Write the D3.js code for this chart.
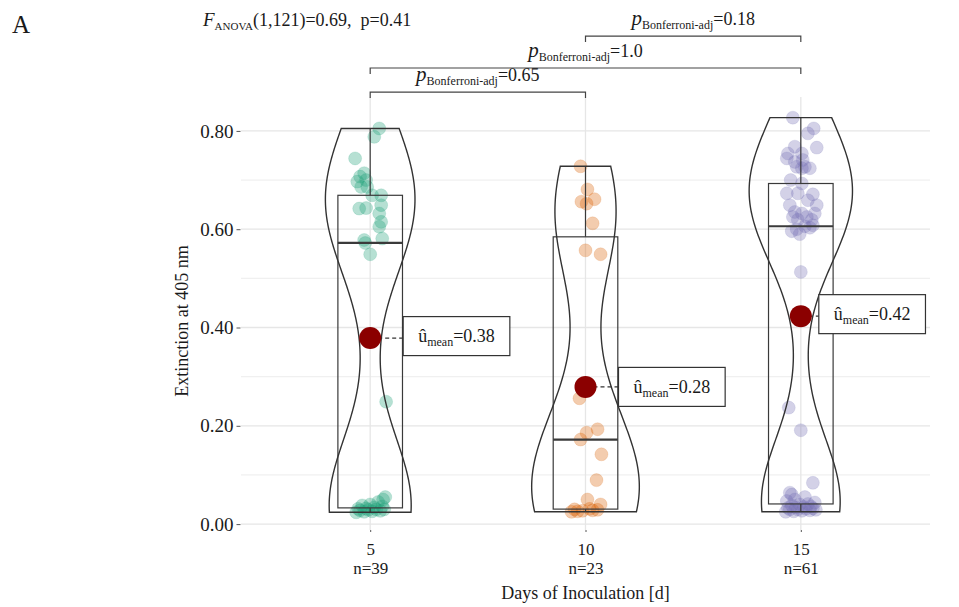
<!DOCTYPE html>
<html>
<head>
<meta charset="utf-8">
<script src="https://cdn.jsdelivr.net/npm/d3@7"></script>
<style>
  body { margin: 0; background: #fff; }
  text { font-family: "Liberation Serif", "Times New Roman", serif; fill: #1a1a1a; white-space: pre; }
</style>
</head>
<body>
<div id="chart"></div>
<script>
// categories (days of inoculation)
var days = ['5', '10', '15'];

// extinction values per group
var day5Values = [0.805, 0.788, 0.744, 0.714, 0.707, 0.700, 0.697, 0.686, 0.686, 0.669, 0.669,
  0.649, 0.643, 0.642, 0.632, 0.615, 0.605, 0.581, 0.578, 0.572, 0.549, 0.249,
  0.024, 0.025, 0.026, 0.027, 0.028, 0.029, 0.030, 0.030, 0.031, 0.032, 0.034, 0.036,
  0.038, 0.040, 0.045, 0.050, 0.055];
var day10Values = [0.728, 0.681, 0.661, 0.656, 0.652, 0.612, 0.557, 0.549, 0.256, 0.193,
  0.186, 0.172, 0.142, 0.0895,
  0.025, 0.026, 0.027, 0.028, 0.029, 0.030, 0.031, 0.040, 0.050];
var day15Values = [0.827, 0.805, 0.795, 0.768, 0.766, 0.754, 0.754, 0.744, 0.741, 0.737,
  0.727, 0.727, 0.724, 0.724, 0.700, 0.693, 0.673, 0.673, 0.671, 0.659, 0.649, 0.649,
  0.635, 0.632, 0.632, 0.625, 0.625, 0.619, 0.619, 0.608, 0.606, 0.603, 0.600, 0.596,
  0.590, 0.513, 0.237, 0.191, 0.084, 0.064,
  0.025, 0.026, 0.027, 0.028, 0.029, 0.030, 0.030, 0.031, 0.032, 0.033, 0.034, 0.035,
  0.036, 0.038, 0.040, 0.041, 0.044, 0.047, 0.050, 0.055, 0.060];

// horizontal jitter of each point, in category units (same order as values)
var day5Jitter = [0.042, 0.019, -0.070, -0.028, -0.047, -0.019, -0.060, -0.042, -0.014, 0.009, 0.051,
  0.051, -0.019, -0.051, 0.042, 0.051, 0.042, 0.056, -0.028, -0.023, 0.000, 0.074,
  -0.065, -0.028, 0.009, 0.047, -0.047, -0.009, 0.028, 0.065, -0.056, -0.019, 0.019, 0.056,
  -0.037, 0.000, 0.037, 0.060, 0.070];
var day10Jitter = [-0.023, 0.009, 0.042, -0.019, 0.005, 0.033, 0.000, 0.070, -0.028, 0.056,
  0.005, -0.023, 0.074, 0.051,
  -0.065, -0.037, -0.014, 0.033, 0.056, -0.051, 0.019, 0.070, 0.009];
var day15Jitter = [-0.037, 0.060, 0.033, -0.028, 0.074, -0.060, 0.005, -0.065, 0.009, -0.028,
  -0.019, 0.019, 0.005, 0.042, -0.047, 0.005, -0.065, -0.014, 0.056, 0.033, -0.051, 0.074,
  -0.028, 0.005, 0.065, -0.037, 0.028, -0.014, 0.051, 0.056, 0.019, 0.042, -0.019, -0.042,
  -0.005, 0.000, -0.056, 0.000, 0.056, -0.051,
  -0.070, -0.033, 0.005, 0.042, 0.070, -0.051, -0.014, 0.023, 0.056, -0.060, -0.023, 0.014,
  0.047, -0.042, -0.005, 0.033, 0.065, -0.065, -0.028, 0.019, -0.042];

var yTicks = [0, 0.2, 0.4, 0.6, 0.8];
var yMinor = [0.1, 0.3, 0.5, 0.7, 0.9];

// pairwise comparisons (ggsignif style)
var pairFrom = ['5', '5', '10'];
var pairTo = ['10', '15', '15'];
var pairP = ['0.65', '1.0', '0.18'];
var pairLevel = [0.879, 0.928, 0.993];

var palette = ['#1B9E77', '#D95F02', '#7570B3'];

var groups = days.map(function (d, i) {
  return {
    day: d,
    values: [day5Values, day10Values, day15Values][i],
    jitter: [day5Jitter, day10Jitter, day15Jitter][i],
    color: palette[i]
  };
});

var W = 959, H = 607;
var panel = { left: 241, right: 930, top: 97, bottom: 530 };

var svg = d3.select('#chart').append('svg')
  .attr('width', W)
  .attr('height', H);

var x = d3.scalePoint().domain(days).range([panel.left, panel.right]).padding(0.6);
var y = d3.scaleLinear().domain([-0.012, 0.869]).range([panel.bottom, panel.top]);
var unit = x.step();

// grid
var grid = svg.append('g');
grid.selectAll('.minor').data(yMinor.filter(function (v) { return y(v) >= panel.top; }))
  .enter().append('line')
  .attr('x1', panel.left).attr('x2', panel.right)
  .attr('y1', function (d) { return y(d); }).attr('y2', function (d) { return y(d); })
  .attr('stroke', '#f0f0f0').attr('stroke-width', 1.2);
grid.selectAll('.major').data(yTicks)
  .enter().append('line')
  .attr('x1', panel.left).attr('x2', panel.right)
  .attr('y1', function (d) { return y(d); }).attr('y2', function (d) { return y(d); })
  .attr('stroke', '#e6e6e6').attr('stroke-width', 1.3);
grid.selectAll('.vert').data(days)
  .enter().append('line')
  .attr('x1', function (d) { return x(d); }).attr('x2', function (d) { return x(d); })
  .attr('y1', panel.top).attr('y2', panel.bottom)
  .attr('stroke', '#e6e6e6').attr('stroke-width', 1.3);

// axes
var yAxis = svg.append('g')
  .attr('transform', 'translate(' + (panel.left - 0.5) + ',0)')
  .call(d3.axisLeft(y).tickValues(yTicks).tickFormat(d3.format('.2f')).tickSize(4).tickPadding(3));
yAxis.select('.domain').remove();
yAxis.selectAll('.tick line').attr('stroke', '#555');
yAxis.selectAll('.tick text').attr('font-size', 19).attr('font-family', null).attr('fill', '#1a1a1a');

var xAxis = svg.append('g')
  .attr('transform', 'translate(0,' + panel.bottom + ')')
  .call(d3.axisBottom(x).tickSize(2));
xAxis.select('.domain').remove();
xAxis.selectAll('.tick line').attr('stroke', '#555');
xAxis.selectAll('.tick text')
  .attr('font-size', 17).attr('font-family', null).attr('fill', '#1a1a1a')
  .attr('y', 25).attr('dy', null)
  .text(null)
  .each(function (d, i) {
    var t = d3.select(this);
    t.append('tspan').attr('x', 0).text(d);
    t.append('tspan').attr('x', 0).attr('dy', 19).text('n=' + groups[i].values.length);
  });

svg.append('text')
  .attr('x', (panel.left + panel.right) / 2).attr('y', 599)
  .attr('text-anchor', 'middle').attr('font-size', 18)
  .text('Days of Inoculation [d]');

svg.append('text')
  .attr('transform', 'translate(188,321) rotate(-90)')
  .attr('text-anchor', 'middle').attr('font-size', 18)
  .text('Extinction at 405 nm');

// kernel density (Gaussian, bw.nrd0), trimmed to the data range
function bwNrd0(v) {
  var s = v.slice().sort(d3.ascending);
  var iqr = d3.quantileSorted(s, 0.75) - d3.quantileSorted(s, 0.25);
  var lo = Math.min(d3.deviation(s), iqr / 1.34);
  return 0.9 * lo * Math.pow(s.length, -0.2);
}
function density(v, bw, at) {
  return d3.mean(v, function (xi) {
    var u = (at - xi) / bw;
    return Math.exp(-0.5 * u * u) / Math.sqrt(2 * Math.PI);
  }) / bw;
}

groups.forEach(function (g) {
  var s = g.values.slice().sort(d3.ascending);
  var bw = bwNrd0(s);
  var lo = s[0], hi = s[s.length - 1];
  g.dens = d3.range(201).map(function (k) {
    var v = lo + (hi - lo) * k / 200;
    return { v: v, d: density(s, bw, v) };
  });
  g.q1 = d3.quantileSorted(s, 0.25);
  g.med = d3.quantileSorted(s, 0.5);
  g.q3 = d3.quantileSorted(s, 0.75);
  var iqr = g.q3 - g.q1;
  g.wLo = d3.min(s.filter(function (v) { return v >= g.q1 - 1.5 * iqr; }));
  g.wHi = d3.max(s.filter(function (v) { return v <= g.q3 + 1.5 * iqr; }));
  g.mean = d3.mean(s);
});
var maxDens = d3.max(groups, function (g) { return d3.max(g.dens, function (p) { return p.d; }); });

var plot = svg.append('g');

// points
groups.forEach(function (g) {
  plot.append('g').selectAll('circle')
    .data(g.values)
    .enter().append('circle')
    .attr('cx', function (d, i) { return x(g.day) + g.jitter[i] * unit; })
    .attr('cy', function (d) { return y(d); })
    .attr('r', 6.5)
    .attr('fill', g.color)
    .attr('fill-opacity', 0.32)
    .attr('stroke', g.color)
    .attr('stroke-opacity', 0.15);
});

// boxes
groups.forEach(function (g) {
  var cx = x(g.day), hw = 0.15 * unit;
  var b = plot.append('g').attr('fill', 'none').attr('stroke', '#3a3a3a');
  b.append('line').attr('x1', cx).attr('x2', cx).attr('y1', y(g.q3)).attr('y2', y(g.wHi)).attr('stroke-width', 1.2);
  b.append('line').attr('x1', cx).attr('x2', cx).attr('y1', y(g.q1)).attr('y2', y(g.wLo)).attr('stroke-width', 1.2);
  b.append('rect')
    .attr('x', cx - hw).attr('width', 2 * hw)
    .attr('y', y(g.q3)).attr('height', y(g.q1) - y(g.q3))
    .attr('stroke-width', 1.2);
  b.append('line').attr('x1', cx - hw).attr('x2', cx + hw)
    .attr('y1', y(g.med)).attr('y2', y(g.med)).attr('stroke-width', 2.2);
});

// violins
var area = d3.area()
  .y(function (p) { return y(p.v); });
groups.forEach(function (g) {
  var cx = x(g.day);
  area.x0(function (p) { return cx - p.d / maxDens * 0.25 * unit; })
      .x1(function (p) { return cx + p.d / maxDens * 0.25 * unit; });
  plot.append('path')
    .attr('d', area(g.dens))
    .attr('fill', 'none')
    .attr('stroke', '#333')
    .attr('stroke-width', 1.4);
});

// mean markers and labels
var labelShift = [[33, -2], [33, 0], [18, -2]];
groups.forEach(function (g, i) {
  var cx = x(g.day), cy = y(g.mean);
  var bx = cx + labelShift[i][0], by = cy + labelShift[i][1];
  plot.append('line')
    .attr('x1', cx + 8).attr('x2', bx)
    .attr('y1', cy).attr('y2', cy)
    .attr('stroke', '#333').attr('stroke-width', 1.3)
    .attr('stroke-dasharray', '4,3');
  plot.append('circle')
    .attr('cx', cx).attr('cy', cy).attr('r', 11)
    .attr('fill', '#8B0000');
  var lab = plot.append('g');
  var rect = lab.append('rect').attr('fill', '#fff').attr('stroke', '#333').attr('stroke-width', 1.2);
  var t = lab.append('text').attr('x', bx + 15).attr('y', by + 6).attr('font-size', 18);
  t.append('tspan').text('û');
  t.append('tspan').attr('font-size', 12).attr('dy', 4).text('mean');
  t.append('tspan').attr('dy', -4).text('=' + d3.format('.2f')(g.mean));
  var tw = t.node().getComputedTextLength();
  rect.attr('x', bx).attr('y', by - 19.5).attr('width', tw + 30).attr('height', 39);
});

// pairwise brackets
pairFrom.forEach(function (f, i) {
  var x1 = x(f), x2 = x(pairTo[i]), yy = y(pairLevel[i]);
  svg.append('path')
    .attr('d', 'M' + x1 + ',' + (yy + 6) + 'V' + yy + 'H' + x2 + 'V' + (yy + 6))
    .attr('fill', 'none').attr('stroke', '#444').attr('stroke-width', 1.2);
  var t = svg.append('text')
    .attr('x', (x1 + x2) / 2).attr('y', yy - 11)
    .attr('text-anchor', 'middle').attr('font-size', 18);
  t.append('tspan').attr('font-style', 'italic').attr('font-size', 21).text('p');
  t.append('tspan').attr('font-size', 12).attr('dy', 4).text('Bonferroni-adj');
  t.append('tspan').attr('dy', -4).text('=' + pairP[i]);
});

// subtitle and panel tag
var sub = svg.append('text').attr('x', 203).attr('y', 26).attr('font-size', 18);
sub.append('tspan').attr('font-style', 'italic').attr('font-size', 19).text('F');
sub.append('tspan').attr('font-size', 11).attr('dy', 4).text('ANOVA');
sub.append('tspan').attr('dy', -4).text('(1,121)=0.69,  p=0.41');

svg.append('text').attr('x', 12).attr('y', 33).attr('font-size', 25).text('A');
</script>
</body>
</html>
